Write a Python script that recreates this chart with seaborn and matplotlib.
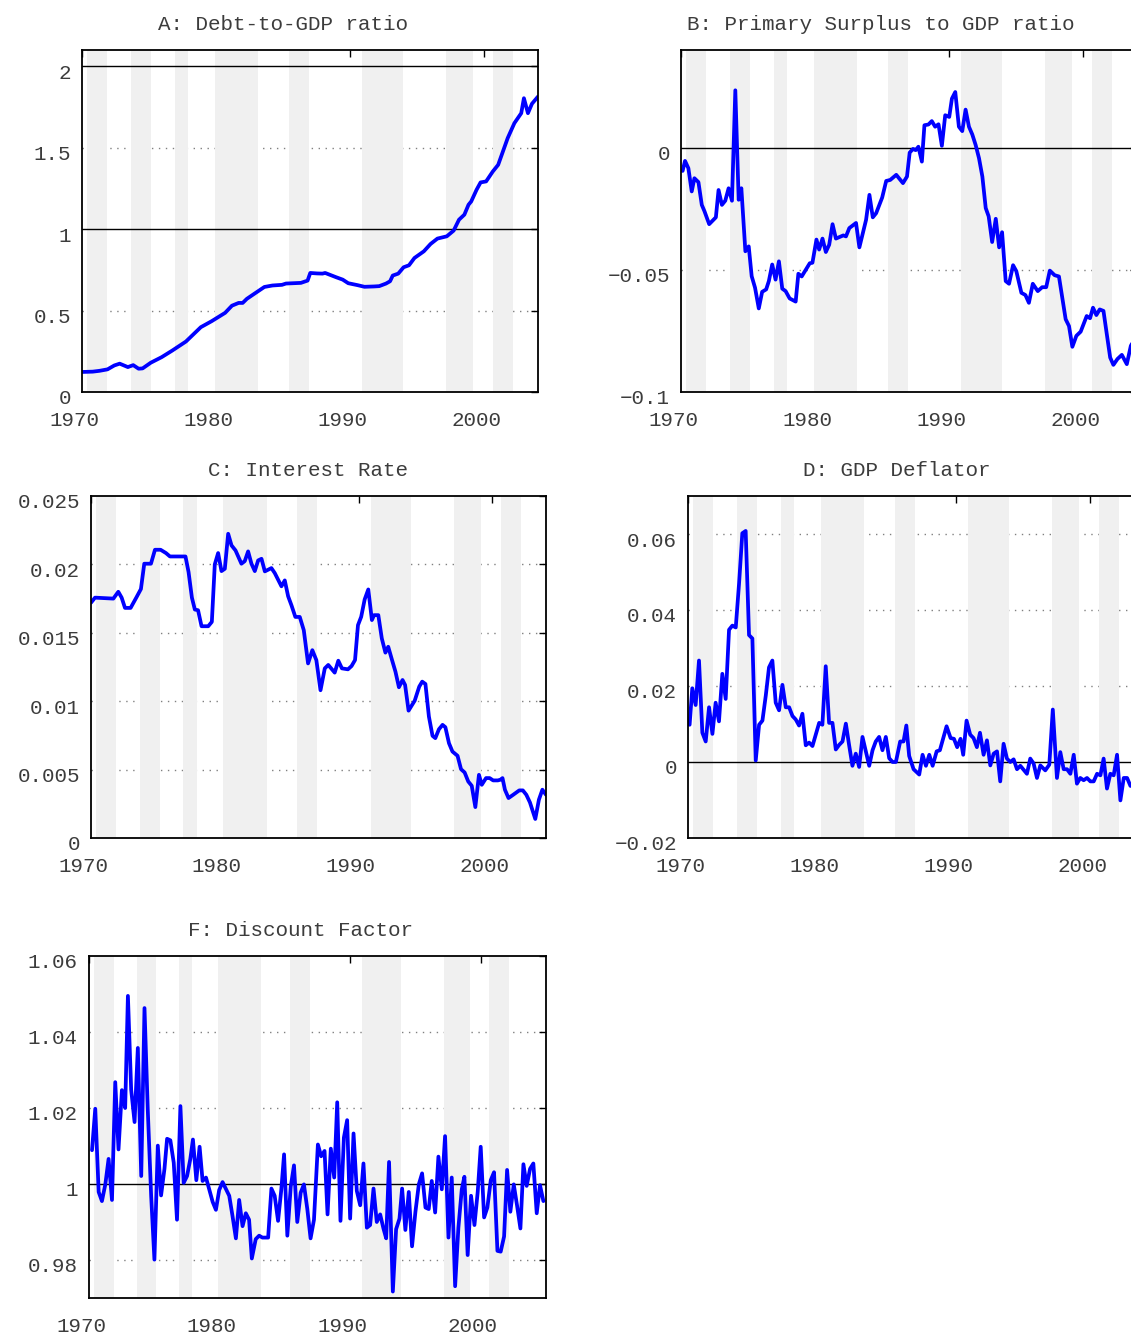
import matplotlib
matplotlib.use("Agg")
import matplotlib.pyplot as plt
from matplotlib.transforms import ScaledTranslation
import seaborn as sns

sns.set_style("white")
plt.rcParams['font.family'] = ['Liberation Mono', 'DejaVu Sans Mono']

# shaded periods (recessions)
rec_start = [1970.4, 1973.65, 1976.9, 1979.9, 1985.4, 1990.9, 1997.15, 2000.65]
rec_end = [1971.9, 1975.15, 1977.9, 1983.15, 1986.9, 1993.9, 1999.15, 2002.15]

# A: Debt-to-GDP ratio
debt_year = [1970.0, 1970.8, 1971.3, 1971.9, 1972.41, 1972.81, 1973.42, 1973.82, 1974.22,
             1974.52, 1975.13, 1975.94, 1976.74, 1977.75, 1978.86, 1979.67, 1980.67, 1981.18,
             1981.68, 1981.98, 1982.29, 1982.79, 1983.6, 1984.2, 1984.91, 1985.21, 1986.32,
             1986.82, 1987.02, 1987.53, 1987.93, 1988.13, 1988.94, 1989.44, 1989.85, 1990.55,
             1991.06, 1991.76, 1992.16, 1992.67, 1992.97, 1993.17, 1993.58, 1993.98, 1994.38,
             1994.79, 1995.49, 1995.99, 1996.5, 1997.2, 1997.71, 1998.11, 1998.51, 1998.82,
             1999.02, 1999.42, 1999.72, 2000.13, 2000.63, 2001.03, 2001.74, 2002.24, 2002.75,
             2002.95, 2003.25, 2003.55, 2004.0]
debt_val = [0.123, 0.125, 0.13, 0.139, 0.163, 0.174, 0.153, 0.165, 0.143,
            0.145, 0.18, 0.214, 0.255, 0.31, 0.398, 0.435, 0.486, 0.53,
            0.547, 0.547, 0.572, 0.60, 0.645, 0.654, 0.658, 0.666, 0.67,
            0.684, 0.731, 0.728, 0.727, 0.731, 0.705, 0.69, 0.668, 0.656,
            0.646, 0.648, 0.65, 0.666, 0.68, 0.715, 0.727, 0.766, 0.778,
            0.823, 0.864, 0.909, 0.942, 0.956, 0.991, 1.058, 1.089, 1.15,
            1.17, 1.242, 1.287, 1.293, 1.354, 1.395, 1.559, 1.651, 1.712,
            1.804, 1.712, 1.77, 1.814]

# B: Primary surplus to GDP ratio
surplus_year = [1970.12, 1970.3, 1970.55, 1970.8, 1971.0, 1971.3, 1971.55, 1971.75, 1972.1,
                1972.6, 1972.8, 1973.05, 1973.3, 1973.55, 1973.8, 1974.05, 1974.3, 1974.5,
                1974.8, 1975.05, 1975.27, 1975.52, 1975.8, 1976.05, 1976.35, 1976.55, 1976.8,
                1977.05, 1977.3, 1977.55, 1977.8, 1978.1, 1978.55, 1978.75, 1979.0, 1979.6,
                1979.8, 1980.1, 1980.3, 1980.55, 1980.8, 1981.05, 1981.3, 1981.55, 1982.1,
                1982.3, 1982.55, 1983.05, 1983.3, 1983.8, 1984.05, 1984.3, 1984.55, 1985.0,
                1985.3, 1985.6, 1986.05, 1986.55, 1986.85, 1987.05, 1987.3, 1987.5, 1987.7,
                1987.96, 1988.15, 1988.45, 1988.7, 1988.95, 1989.2, 1989.45, 1989.7, 1990.0,
                1990.2, 1990.45, 1990.72, 1990.97, 1991.22, 1991.47, 1991.72, 1991.97, 1992.22,
                1992.47, 1992.72, 1992.94, 1993.2, 1993.47, 1993.72, 1993.94, 1994.21, 1994.46,
                1994.76, 1995.0, 1995.38, 1995.68, 1995.94, 1996.23, 1996.6, 1996.93, 1997.23,
                1997.5, 1997.86, 1998.18, 1998.68, 1998.93, 1999.18, 1999.48, 1999.8, 2000.25,
                2000.5, 2000.72, 2000.97, 2001.22, 2001.5, 2001.75, 2002.0, 2002.24, 2002.54,
                2002.87, 2003.24, 2003.54, 2003.75]
surplus_val = [-0.0095, -0.0054, -0.0084, -0.0179, -0.0125, -0.0141, -0.0234, -0.026, -0.0313,
               -0.0285, -0.0173, -0.0234, -0.0217, -0.0166, -0.0217, 0.0235, -0.0213, -0.0166,
               -0.0424, -0.0404, -0.0526, -0.0573, -0.0658, -0.059, -0.058, -0.0546, -0.0478,
               -0.054, -0.0465, -0.0577, -0.0587, -0.0617, -0.063, -0.0516, -0.0527, -0.0473,
               -0.0471, -0.0376, -0.0417, -0.0372, -0.0427, -0.0397, -0.0313, -0.0372, -0.0359,
               -0.0363, -0.0329, -0.0308, -0.0408, -0.0295, -0.0193, -0.0285, -0.0268, -0.0204,
               -0.0136, -0.0132, -0.0111, -0.0145, -0.0118, -0.002, -0.0005, -0.001, 0.0004,
               -0.0057, 0.0092, 0.0095, 0.0109, 0.0086, 0.0096, 0.0008, 0.0133, 0.0126,
               0.0201, 0.0228, 0.0086, 0.0068, 0.0156, 0.0086, 0.0054, 0.0011, -0.0043,
               -0.0118, -0.0247, -0.0281, -0.0386, -0.0291, -0.0408, -0.0346, -0.0546, -0.0557,
               -0.0481, -0.0505, -0.0594, -0.0603, -0.0635, -0.0557, -0.0587, -0.0571, -0.0571,
               -0.0503, -0.0522, -0.0527, -0.0702, -0.073, -0.0815, -0.077, -0.0753, -0.0689,
               -0.0698, -0.0655, -0.0685, -0.0662, -0.0668, -0.0764, -0.0859, -0.0889, -0.0865,
               -0.0848, -0.0886, -0.0811, -0.079]

# C: Interest rate
rate_year = [1970.0, 1970.3, 1971.67, 1972.04, 1972.29, 1972.54, 1972.96, 1973.4, 1973.73,
             1973.98, 1974.48, 1974.78, 1975.2, 1975.6, 1975.9, 1977.06, 1977.29, 1977.54,
             1977.76, 1978.0, 1978.26, 1978.76, 1979.03, 1979.25, 1979.5, 1979.75, 1980.0,
             1980.25, 1980.5, 1980.8, 1981.24, 1981.49, 1981.74, 1981.99, 1982.24, 1982.49,
             1982.74, 1982.99, 1983.48, 1983.73, 1984.23, 1984.48, 1984.73, 1984.98, 1985.27,
             1985.6, 1985.9, 1986.22, 1986.54, 1986.84, 1987.15, 1987.47, 1987.73, 1988.21,
             1988.48, 1988.75, 1989.2, 1989.47, 1989.73, 1989.95, 1990.19, 1990.45, 1990.72,
             1990.99, 1991.15, 1991.47, 1991.73, 1992.0, 1992.21, 1992.48, 1992.75, 1993.01,
             1993.28, 1993.47, 1993.73, 1994.19, 1994.53, 1994.75, 1994.99, 1995.25, 1995.52,
             1995.73, 1996.0, 1996.27, 1996.48, 1996.75, 1997.01, 1997.39, 1997.65, 1997.92,
             1998.19, 1998.45, 1998.72, 1998.99, 1999.2, 1999.52, 1999.79, 2000.05, 2000.4,
             2000.59, 2000.75, 2000.93, 2001.2, 2001.55, 2002.0, 2002.27, 2002.53, 2002.8,
             2003.2, 2003.47, 2003.73, 2004.0]
rate_val = [0.0172, 0.01757, 0.0175, 0.018, 0.01757, 0.01682, 0.01682, 0.0176, 0.0182,
            0.02005, 0.02005, 0.02107, 0.02107, 0.02083, 0.02058, 0.02058, 0.01944, 0.01757,
            0.0167, 0.01665, 0.01548, 0.01548, 0.0158, 0.02, 0.02083, 0.01951, 0.01968,
            0.02224, 0.02139, 0.02102, 0.02005, 0.02024, 0.02095, 0.02005, 0.01951, 0.02029,
            0.02041, 0.01949, 0.01973, 0.01937, 0.0184, 0.01883, 0.01767, 0.01701, 0.01616,
            0.01616, 0.01519, 0.01276, 0.01373, 0.013, 0.0108, 0.0124, 0.01265, 0.01209,
            0.01296, 0.0124, 0.01233, 0.01257, 0.01301, 0.01556, 0.01617, 0.01744, 0.01817,
            0.01593, 0.01629, 0.01629, 0.01459, 0.01355, 0.01398, 0.01306, 0.01216, 0.01102,
            0.01155, 0.01119, 0.00931, 0.01004, 0.01107, 0.01143, 0.01126, 0.00888, 0.00747,
            0.0073, 0.00795, 0.00827, 0.0081, 0.00693, 0.00632, 0.00601, 0.00503, 0.00479,
            0.00413, 0.00382, 0.00226, 0.00462, 0.00389, 0.00438, 0.00438, 0.00421, 0.00421,
            0.00426, 0.00438, 0.00353, 0.00292, 0.00316, 0.00348, 0.00348, 0.00316, 0.0026,
            0.00139, 0.0028, 0.00353, 0.00316]

# D: GDP deflator
defl_year = [1970.12, 1970.32, 1970.57, 1970.82, 1971.07, 1971.32, 1971.57, 1971.82, 1972.06,
             1972.31, 1972.56, 1972.81, 1973.06, 1973.31, 1973.56, 1973.81, 1974.05, 1974.3,
             1974.55, 1974.8, 1975.05, 1975.3, 1975.55, 1975.8, 1976.04, 1976.29, 1976.54,
             1976.79, 1977.04, 1977.29, 1977.54, 1977.79, 1978.03, 1978.28, 1978.53, 1978.78,
             1979.03, 1979.28, 1979.53, 1979.78, 1980.02, 1980.27, 1980.52, 1980.77, 1981.02,
             1981.27, 1981.52, 1981.77, 1982.01, 1982.26, 1982.51, 1982.76, 1983.01, 1983.26,
             1983.51, 1983.76, 1984.0, 1984.25, 1984.5, 1984.75, 1985.0, 1985.25, 1985.5,
             1985.82, 1986.07, 1986.28, 1986.49, 1986.82, 1987.24, 1987.49, 1987.74, 1987.99,
             1988.24, 1988.54, 1988.78, 1989.28, 1989.58, 1989.83, 1990.07, 1990.32, 1990.52,
             1990.77, 1991.04, 1991.29, 1991.54, 1991.77, 1992.04, 1992.29, 1992.54, 1992.79,
             1993.04, 1993.28, 1993.53, 1993.78, 1994.03, 1994.28, 1994.53, 1994.78, 1995.27,
             1995.52, 1995.77, 1996.02, 1996.27, 1996.64, 1996.94, 1997.2, 1997.51, 1997.76,
             1998.01, 1998.26, 1998.51, 1998.76, 1999.0, 1999.25, 1999.5, 1999.75, 2000.0,
             2000.25, 2000.5, 2000.75, 2000.99, 2001.24, 2001.49, 2001.74, 2001.99, 2002.24,
             2002.49, 2002.74, 2002.99, 2003.25]
defl_val = [0.0098, 0.0194, 0.015, 0.0267, 0.0077, 0.0054, 0.0144, 0.0074, 0.0156,
            0.0107, 0.0232, 0.0166, 0.0348, 0.0359, 0.0354, 0.0471, 0.0602, 0.0608,
            0.0334, 0.0325, 0.0004, 0.0098, 0.0109, 0.0175, 0.0249, 0.0267, 0.0156,
            0.0136, 0.0203, 0.0144, 0.0144, 0.0121, 0.0112, 0.0096, 0.0127, 0.0044,
            0.0051, 0.0042, 0.0072, 0.0103, 0.0098, 0.0252, 0.0103, 0.0103, 0.0033,
            0.0045, 0.0054, 0.0101, 0.0045, -0.001, 0.0022, -0.0013, 0.0066, 0.0028,
            -0.001, 0.0031, 0.0054, 0.0066, 0.0031, 0.0066, 0.001, 0.0, 0.0,
            0.0054, 0.0054, 0.0096, 0.0016, -0.0019, -0.0033, 0.0019, -0.001, 0.0019,
            -0.001, 0.0028, 0.0031, 0.0094, 0.0063, 0.0061, 0.0039, 0.0061, 0.0019,
            0.0109, 0.0072, 0.0063, 0.0039, 0.0077, 0.0019, 0.0057, -0.0009, 0.0022,
            0.0028, -0.0051, 0.0048, 0.0009, 0.0, 0.0007, -0.0019, -0.001, -0.0031,
            0.0009, -0.0004, -0.0042, -0.0009, -0.0022, -0.0007, 0.0138, -0.0042, 0.0026,
            -0.0019, -0.0019, -0.0031, 0.0019, -0.0057, -0.0042, -0.0048, -0.0042, -0.0051,
            -0.0051, -0.0031, -0.0035, 0.0009, -0.007, -0.0031, -0.0035, 0.0019, -0.0101,
            -0.0042, -0.0042, -0.0063, -0.0062]

# F: Discount factor
disc_year = [1970.23, 1970.48, 1970.74, 1970.99, 1971.25, 1971.5, 1971.76, 1972.01, 1972.26,
             1972.52, 1972.77, 1972.98, 1973.23, 1973.49, 1973.74, 1974.0, 1974.25, 1974.5,
             1974.76, 1975.01, 1975.27, 1975.52, 1975.78, 1975.98, 1976.23, 1976.49, 1976.74,
             1977.0, 1977.25, 1977.51, 1977.76, 1977.96, 1978.22, 1978.47, 1978.7, 1978.96,
             1979.21, 1979.47, 1979.72, 1979.97, 1980.23, 1980.74, 1980.99, 1981.25, 1981.5,
             1981.76, 1982.01, 1982.26, 1982.47, 1982.77, 1983.03, 1983.28, 1983.72, 1983.97,
             1984.22, 1984.48, 1984.73, 1984.94, 1985.19, 1985.45, 1985.7, 1985.95, 1986.21,
             1986.46, 1986.72, 1986.97, 1987.23, 1987.53, 1987.78, 1988.04, 1988.27, 1988.52,
             1988.78, 1989.01, 1989.26, 1989.52, 1989.77, 1990.0, 1990.26, 1990.51, 1990.77,
             1991.02, 1991.28, 1991.53, 1991.79, 1992.04, 1992.3, 1992.55, 1992.76, 1992.98,
             1993.27, 1993.52, 1993.78, 1993.98, 1994.23, 1994.49, 1994.74, 1995.0, 1995.26,
             1995.51, 1995.77, 1996.02, 1996.25, 1996.51, 1996.76, 1997.02, 1997.27, 1997.53,
             1997.78, 1998.04, 1998.29, 1998.55, 1998.75, 1999.0, 1999.26, 1999.52, 1999.77,
             2000.0, 2000.26, 2000.51, 2000.77, 2001.02, 2001.28, 2001.53, 2001.79, 2002.02,
             2002.27, 2002.53, 2002.78, 2003.04, 2003.27, 2003.52, 2003.78, 2004.03, 2004.29,
             2004.54, 2004.8]
disc_val = [1.0089, 1.0198, 0.9979, 0.9955, 0.9999, 1.0066, 0.9958, 1.0268, 1.0091,
            1.0247, 1.02, 1.0495, 1.0248, 1.0163, 1.0358, 1.0021, 1.0463, 1.0196,
            0.9969, 0.9801, 1.0101, 0.997, 1.004, 1.0119, 1.0115, 1.0056, 0.9906,
            1.0205, 1.0003, 1.0021, 1.0066, 1.0117, 1.001, 1.0098, 1.0008, 1.0017,
            0.9986, 0.9953, 0.9932, 0.9984, 1.0005, 0.9969, 0.9916, 0.9857, 0.9958,
            0.9889, 0.9923, 0.9906, 0.9804, 0.9855, 0.9864, 0.9859, 0.9859, 0.9988,
            0.9969, 0.9903, 0.9986, 1.0078, 0.9864, 0.9993, 1.0049, 0.99, 0.9977,
            0.9999, 0.9934, 0.9857, 0.9906, 1.0104, 1.0073, 1.0087, 0.992, 1.0093,
            1.0017, 1.0215, 0.9903, 1.0122, 1.0168, 0.9909, 1.0133, 0.9982, 0.9944,
            1.0054, 0.9885, 0.9892, 0.9988, 0.99, 0.992, 0.9883, 0.9857, 1.0058,
            0.9717, 0.9881, 0.9909, 0.9988, 0.9879, 0.9979, 0.9836, 0.9927, 0.9999,
            1.0028, 0.9938, 0.9934, 1.0008, 0.9925, 1.0072, 0.9986, 1.0126, 0.9859,
            1.0017, 0.9731, 0.9885, 0.9986, 1.0019, 0.9813, 0.9969, 0.9892, 0.9979,
            1.0098, 0.9912, 0.9938, 1.001, 1.0031, 0.9824, 0.9822, 0.9862, 1.0037,
            0.9927, 0.9999, 0.9944, 0.9883, 1.0052, 0.9995, 1.004, 1.0054, 0.9923,
            0.9997, 0.9955]

xticks = [1970, 1980, 1990, 2000]
xticklabels = ['1970', '1980', '1990', '2000']

W, H = 1131, 1335
fig = plt.figure(figsize=(W / 100, H / 100), dpi=100)
fig.patch.set_facecolor('white')

TXT = '#3c3c3c'


def add_panel(box, title, title_xy, years, values, xlim, ylim, yticks, yticklabels,
              dotted, solid):
    x0, y0, x1, y1 = box
    ax = fig.add_axes([x0 / W, 1 - y1 / H, (x1 - x0) / W, (y1 - y0) / H])
    ax.set_facecolor('white')
    for y in dotted:
        ax.axhline(y, color='#808080', lw=1.0, ls=(0, (1, 4)), zorder=0.5)
    for s, e in zip(rec_start, rec_end):
        ax.axvspan(s, e, color='#f0f0f0', lw=0, zorder=1)
    for y in solid:
        ax.axhline(y, color='black', lw=1.0, zorder=2)
    sns.lineplot(x=years, y=values, ax=ax, color='#0000ff', lw=2.7,
                 estimator=None, sort=False, zorder=3)
    ax.set_xlim(*xlim)
    ax.set_ylim(*ylim)
    ax.set_xlabel('')
    ax.set_ylabel('')
    ax.set_xticks(xticks)
    ax.set_xticklabels(xticklabels)
    ax.set_yticks(yticks)
    ax.set_yticklabels(yticklabels)
    ax.tick_params(axis='both', direction='in', length=5, width=1, colors='black',
                   labelcolor=TXT, labelsize=15, top=True, right=True)
    ax.tick_params(axis='x', pad=14)
    ax.tick_params(axis='y', pad=8)
    for sp in ax.spines.values():
        sp.set_visible(True)
        sp.set_color('black')
        sp.set_linewidth(1.3)
        sp.set_zorder(4)
    for lab in ax.get_xticklabels():
        lab.set_transform(lab.get_transform() + ScaledTranslation(-0.08, 0, fig.dpi_scale_trans))
    for lab in ax.get_yticklabels():
        lab.set_transform(lab.get_transform() + ScaledTranslation(0, -0.05, fig.dpi_scale_trans))
    fig.text(title_xy[0] / W, 1 - title_xy[1] / H, title, ha='center', va='center',
             fontsize=15, color=TXT)
    return ax


add_panel((82, 50, 538, 392), 'A: Debt-to-GDP ratio', (283, 25),
          debt_year, debt_val, (1970, 2004), (0, 2.1),
          [0, 0.5, 1, 1.5, 2], ['0', '0.5', '1', '1.5', '2'],
          [0.5, 1.5], [1, 2])

add_panel((681, 50, 1137, 392), 'B: Primary Surplus to GDP ratio', (881, 25),
          surplus_year, surplus_val, (1970, 2004), (-0.1, 0.04),
          [-0.1, -0.05, 0], ['\u22120.1', '\u22120.05', '0'],
          [-0.05], [0])

add_panel((91, 496, 546, 838), 'C: Interest Rate', (308, 470),
          rate_year, rate_val, (1970, 2004), (0, 0.025),
          [0, 0.005, 0.01, 0.015, 0.02, 0.025],
          ['0', '0.005', '0.01', '0.015', '0.02', '0.025'],
          [0.005, 0.01, 0.015, 0.02], [])

add_panel((688, 496, 1144, 838), 'D: GDP Deflator', (897, 470),
          defl_year, defl_val, (1970, 2004), (-0.02, 0.07),
          [-0.02, 0, 0.02, 0.04, 0.06], ['\u22120.02', '0', '0.02', '0.04', '0.06'],
          [0.02, 0.04, 0.06], [0])

add_panel((89, 956, 546, 1298), 'F: Discount Factor', (301, 931),
          disc_year, disc_val, (1970, 2005), (0.97, 1.06),
          [0.98, 1, 1.02, 1.04, 1.06], ['0.98', '1', '1.02', '1.04', '1.06'],
          [0.98, 1.02, 1.04], [1])

fig.savefig('out.png', dpi=100, facecolor='white')
